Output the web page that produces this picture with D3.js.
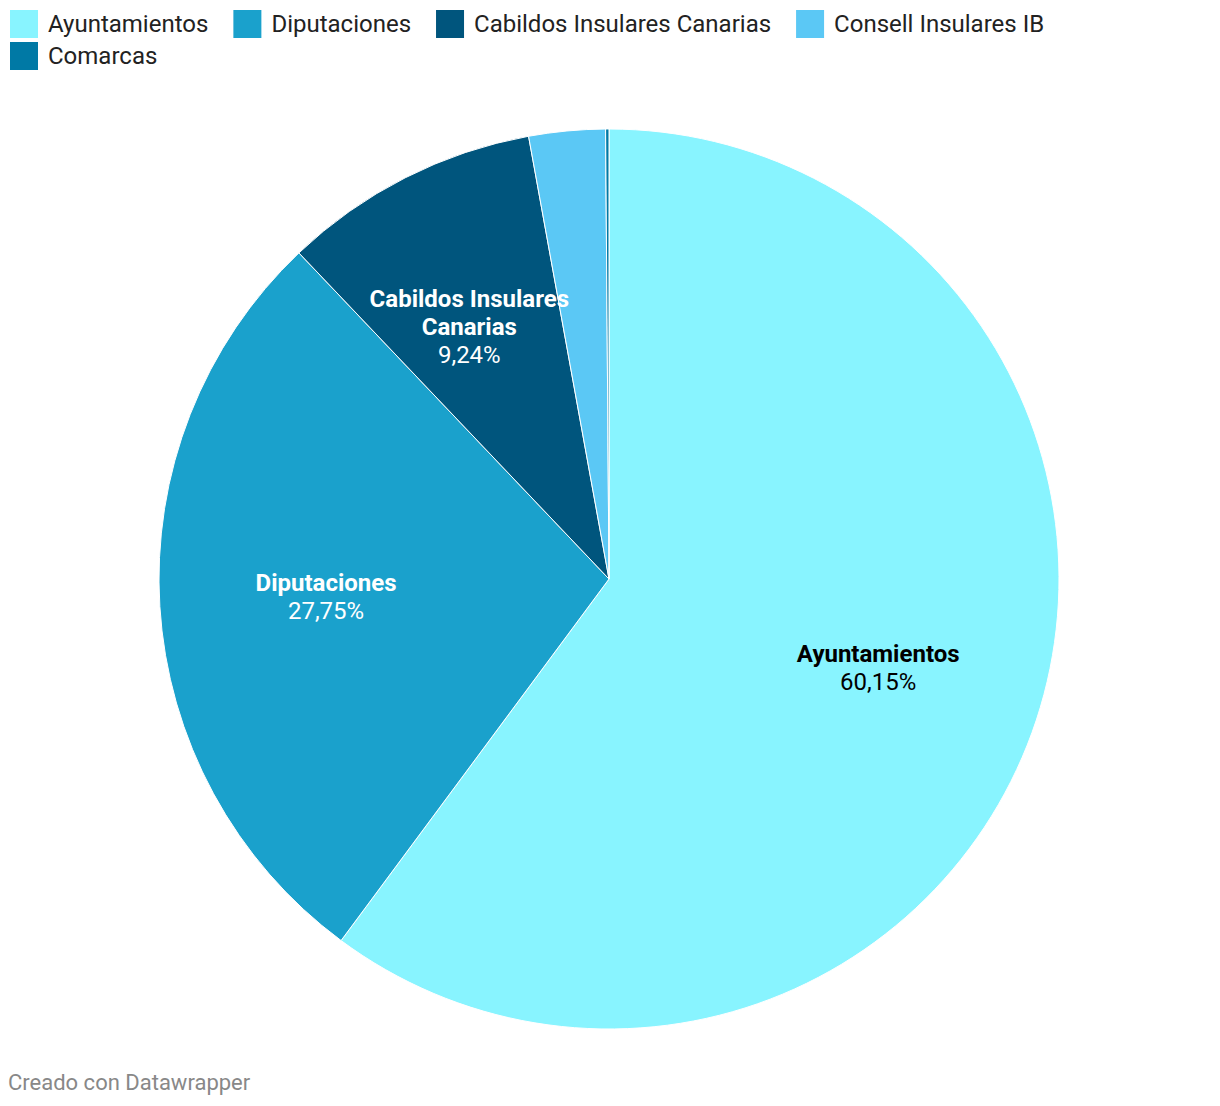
<!DOCTYPE html>
<html><head><meta charset="utf-8">
<script src="https://cdn.jsdelivr.net/npm/d3@7"></script>
<style>
body{margin:0;background:#fff;}
svg{display:block;font-family:Roboto, sans-serif;}
</style></head>
<body>
<svg id="chart" width="1220" height="1106"></svg>
<script>
const categories = ["Ayuntamientos","Diputaciones","Cabildos Insulares Canarias","Consell Insulares IB","Comarcas"];
const values = [60.15, 27.75, 9.24, 2.74, 0.12];
const valueLabels = ["60,15%","27,75%","9,24%","",""];
const labelLines = [["Ayuntamientos"],["Diputaciones"],["Cabildos Insulares","Canarias"],[],[]];
const colors = ["#88f4ff","#1aa1cc","#00557d","#5bc8f5","#0079a5"];
const labelColors = ["#000","#fff","#fff","#fff","#fff"];

const svg = d3.select("#chart");
const cx = 609, cy = 579, R = 450;

// legend
const legend = svg.append("g");
let lx = 10, ly = 10;
const rowH = 32, sq = 28, maxW = 1210;
categories.forEach((c,i)=>{
  const g = legend.append("g");
  const t = g.append("text").attr("x", sq+10).attr("y", sq/2).attr("dy","0.35em")
    .attr("font-size",24).attr("fill","#222").text(c);
  const tw = t.node().getComputedTextLength();
  const w = sq + 10 + tw;
  if (lx + w > maxW) { lx = 10; ly += rowH; }
  g.attr("transform",`translate(${lx},${ly})`);
  g.insert("rect","text").attr("width",sq).attr("height",sq).attr("fill",colors[i]);
  lx += w + 25;
});

// pie
const data = categories.map((c,i)=>({name:c, value:values[i], i}));
const pie = d3.pie().value(d=>d.value).sort(null);
const arc = d3.arc().innerRadius(0).outerRadius(R);
const arcs = pie(data);
const g = svg.append("g").attr("transform",`translate(${cx},${cy})`);
g.selectAll("path").data(arcs).join("path")
  .attr("d",arc).attr("fill",d=>colors[d.data.i])
  .attr("stroke","#fff").attr("stroke-width",1);

const labelArc = d3.arc().innerRadius(R*0.63).outerRadius(R*0.63);
arcs.forEach(a=>{
  const i = a.data.i;
  const lines = labelLines[i];
  if (!lines.length) return;
  let [x,y] = labelArc.centroid(a);
  const all = lines.map(l=>({t:l,b:true})).concat([{t:valueLabels[i],b:false}]);
  const lh = 28;
  const y0 = y - (all.length-1)*lh/2;
  const t = g.append("text").attr("text-anchor","middle").attr("fill",labelColors[i]).attr("font-size",24);
  all.forEach((l,k)=>{
    t.append("tspan").attr("x",x).attr("y",y0+k*lh).attr("dy","0.35em")
     .attr("font-weight",l.b?700:400).text(l.t);
  });
  // nudge multi-line label so it only slightly overhangs the slice's right edge
  if (lines.length > 1) {
    const bb = t.node().getBBox();
    const edgeX = Math.sin(a.endAngle) * (-(y0)) / Math.cos(a.endAngle);
    const shift = Math.min(0, edgeX + 11 - (bb.x + bb.width));
    t.selectAll("tspan").attr("x", x + shift);
  }
});

svg.append("text").attr("x",8).attr("y",1090).attr("font-size",22).attr("fill","#888")
  .text("Creado con Datawrapper");
</script>
</body></html>
